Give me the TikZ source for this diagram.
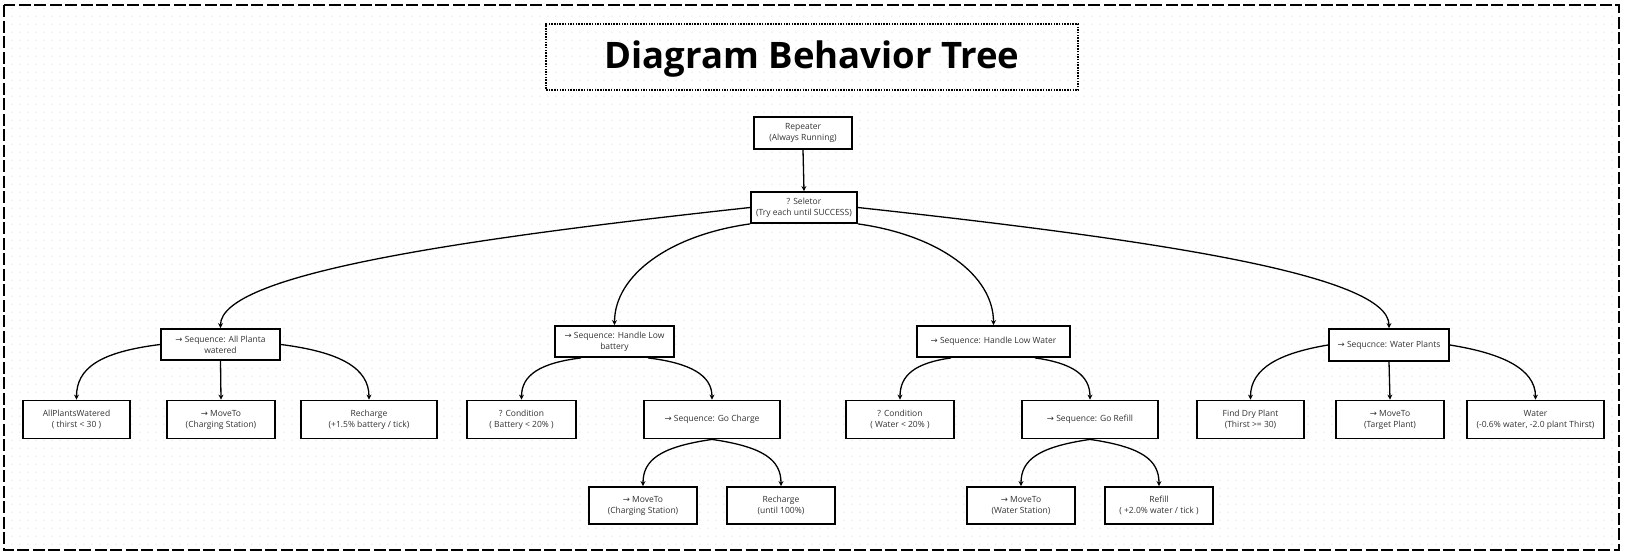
\documentclass[tikz,border=0pt]{standalone}
\usepackage{fontspec}
\setmainfont{Open Sans}
\newfontfamily\arrowfont{DejaVu Sans}
\usetikzlibrary{arrows.meta,patterns.meta}
\tikzdeclarepattern{name=gridots, type=uncolored,
  bounding box={(0pt,0pt) and (8.33pt,8.33pt)},
  tile size={(8.33pt,8.33pt)},
  code={\fill (4.16pt,4.16pt) circle (0.65pt);}}
\newcommand{\rarr}{{\arrowfont →}}
\begin{document}
\begin{tikzpicture}[x=1pt,y=-1pt,
  box/.style={draw, line width=1.8pt, fill=white, align=center, inner sep=0pt,
    font=\fontsize{8.5}{11}\selectfont, text=black!80},
  seqbox/.style={box, minimum height=31pt},
  leaf/.style={box, minimum height=38pt},
  bottomleaf/.style={box, minimum height=37pt},
  edge/.style={line width=1.3pt, -{Stealth[length=5pt,width=5pt]}}]
\useasboundingbox (0,0) rectangle (1625,555);
\fill[white] (0,0) rectangle (1625,555);
\fill[pattern=gridots, pattern color=black!20] (8,8) rectangle (1617,547);
\draw[line width=2pt, dash pattern=on 12pt off 3.5pt] (4,5) rectangle (1619,550);

\node[draw, line width=1.5pt, dash pattern=on 1.5pt off 1.2pt, minimum width=532pt,
  minimum height=66pt, inner sep=0pt] (title) at (812,57) {};
\node[font=\fontsize{36.5}{40}\selectfont\bfseries, inner sep=0pt] (titletext) at (812,59) {Diagram Behavior Tree};

\node[box, minimum width=98pt, minimum height=32pt] (rep) at (803,133) {Repeater\\(Always Running)};
\node[box, minimum width=106pt, minimum height=31pt] (sel) at (804,207.5) {? Seletor\\(Try each until SUCCESS)};

\node[seqbox, minimum width=119pt] (allp) at (220.5,344.5) {\rarr{} Sequence: All Planta\\watered};
\node[seqbox, minimum width=119pt] (hlb) at (614.5,341.5) {\rarr{} Sequence: Handle Low\\battery};
\node[seqbox, minimum width=153pt] (hlw) at (993.5,341.5) {\rarr{} Sequence: Handle Low Water};
\node[seqbox, minimum width=120pt, minimum height=32pt] (wp) at (1389,345) {\rarr{} Sequcnce: Water Plants};

\node[leaf, minimum width=107pt] (apw) at (76.5,419.5) {AllPlantsWatered\\( thirst < 30 )};
\node[leaf, minimum width=108pt] (mtc) at (221,419.5) {\rarr{} MoveTo\\(Charging Station)};
\node[leaf, minimum width=136pt] (rch) at (369,419.5) {Recharge\\(+1.5\% battery / tick)};
\node[leaf, minimum width=109pt] (cb) at (521.5,419.5) {? Condition\\( Battery < 20\% )};
\node[leaf, minimum width=136pt] (gc) at (712,419.5) {\rarr{} Sequence: Go Charge};
\node[leaf, minimum width=108pt] (cw) at (900,419.5) {? Condition\\( Water < 20\% )};
\node[leaf, minimum width=136pt] (gr) at (1090,419.5) {\rarr{} Sequence: Go Refill};
\node[leaf, minimum width=107pt] (fdp) at (1250.5,419.5) {Find Dry Plant\\(Thirst >= 30)};
\node[leaf, minimum width=108pt] (mtt) at (1390,419.5) {\rarr{} MoveTo\\(Target Plant)};
\node[leaf, minimum width=137pt] (wat) at (1535.5,419.5) {Water\\(-0.6\% water, -2.0 plant Thirst)};

\node[bottomleaf, minimum width=108pt] (mtc2) at (643,505.5) {\rarr{} MoveTo\\(Charging Station)};
\node[bottomleaf, minimum width=108pt] (rc2) at (781,505.5) {Recharge\\(until 100\%)};
\node[bottomleaf, minimum width=108pt] (mtw) at (1021,505.5) {\rarr{} MoveTo\\(Water Station)};
\node[bottomleaf, minimum width=108pt] (ref) at (1159,505.5) {Refill\\( +2.0\% water / tick )};

\draw[edge] (rep.south) -- (sel.north);
\draw[edge] (sel.west) .. controls (451,240) and (220.5,275) .. (allp.north);
\draw[edge] (sel.south west) .. controls (670,235) and (614.5,275) .. (hlb.north);
\draw[edge] (sel.south east) .. controls (938,235) and (993.5,275) .. (hlw.north);
\draw[edge] (sel.east) .. controls (1157,240) and (1389,275) .. (wp.north);

\draw[edge] (allp.west) .. controls (100,352) and (76.5,368) .. (apw.north);
\draw[edge] (allp.south) -- (mtc.north);
\draw[edge] (allp.east) .. controls (340,352) and (369,368) .. (rch.north);

\draw[edge] ([xshift=27pt]hlb.south west) .. controls (540,363) and (521.5,375) .. (cb.north);
\draw[edge] ([xshift=-27pt]hlb.south east) .. controls (690,363) and (712,375) .. (gc.north);

\draw[edge] ([xshift=35pt]hlw.south west) .. controls (915,363) and (900,375) .. (cw.north);
\draw[edge] ([xshift=-36pt]hlw.south east) .. controls (1072,363) and (1090,375) .. (gr.north);

\draw[edge] (gc.south) .. controls (660,447) and (643,460) .. (mtc2.north);
\draw[edge] (gc.south) .. controls (764,447) and (781,460) .. (rc2.north);
\draw[edge] (gr.south) .. controls (1038,447) and (1021,460) .. (mtw.north);
\draw[edge] (gr.south) .. controls (1142,447) and (1159,460) .. (ref.north);

\draw[edge] (wp.west) .. controls (1280,353) and (1250.5,368) .. (fdp.north);
\draw[edge] (wp.south) -- (mtt.north);
\draw[edge] (wp.east) .. controls (1500,353) and (1535.5,368) .. (wat.north);
\end{tikzpicture}
\end{document}
